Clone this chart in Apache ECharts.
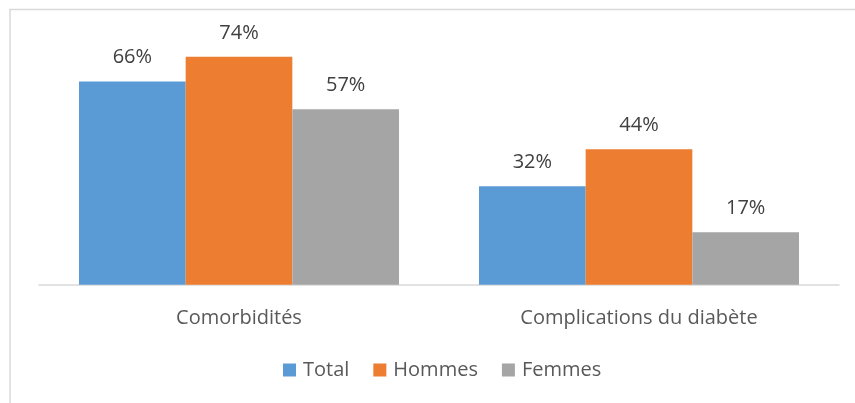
<!DOCTYPE html>
<html>
<head>
<meta charset="utf-8">
<script src="https://cdn.jsdelivr.net/npm/echarts@6/dist/echarts.min.js"></script>
<style>
  html, body { margin: 0; padding: 0; background: #fff; }
  #chart { width: 855px; height: 403px; }
</style>
</head>
<body>
<div id="chart"></div>
<script>
  // données (%)
  const categories = ['Comorbidités', 'Complications du diabète']
  const seriesNames = ['Total', 'Hommes', 'Femmes']
  const total = [66, 32]
  const hommes = [74, 44]
  const femmes = [57, 17]
  const colors = ['#5B9BD5', '#ED7D31', '#A5A5A5']

  const font = 'Open Sans'
  const myChart = echarts.init(document.getElementById('chart'))

  function bar(name, data) {
    return {
      name: name,
      type: 'bar',
      barGap: '0%',
      barCategoryGap: '20%',
      data: data,
      label: {
        show: true,
        position: 'top',
        distance: 14,
        formatter: '{c}%',
        color: '#404040',
        fontSize: 20,
        fontFamily: font
      }
    }
  }

  const option = {
    color: colors,
    animation: false,
    graphic: [{
      type: 'rect',
      shape: { x: 10, y: 9.5, width: 900, height: 500 },
      style: { fill: 'none', stroke: '#d9d9d9', lineWidth: 1.5 }
    }],
    grid: {
      left: 39,
      right: 16,
      top: 38.4,
      bottom: 118.3
    },
    legend: {
      bottom: 18,
      left: 278,
      itemWidth: 13,
      itemHeight: 13,
      itemGap: 24,
      icon: 'rect',
      textStyle: { color: '#595959', fontSize: 20, fontFamily: font, padding: [0, 0, 0, 2] },
      data: seriesNames
    },
    xAxis: {
      type: 'category',
      data: categories,
      axisLine: { lineStyle: { color: '#d9d9d9', width: 1.5 } },
      axisTick: { show: false },
      axisLabel: { color: '#595959', fontSize: 20, fontFamily: font, margin: 24 }
    },
    yAxis: {
      type: 'value',
      min: 0,
      max: 80,
      show: false
    },
    series: [
      bar(seriesNames[0], total),
      bar(seriesNames[1], hommes),
      bar(seriesNames[2], femmes)
    ]
  }
  myChart.setOption(option)
</script>
</body>
</html>
